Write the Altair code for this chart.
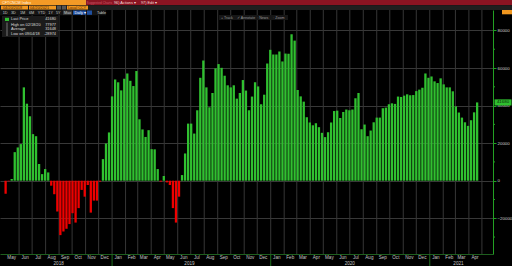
import altair as alt
import pandas as pd

FONT = "Liberation Sans"
GREEN = "#30c030"
RED = "#ee0000"

# ---- data -----------------------------------------------------------------
week_start = "2018-05-01"  # weekly (Tuesday) observations
net_positions = [
    -7000, -300, 900, 15200, 17700, 19500, 49700, 41000, 34300, 24800,
    23700, 8900, 3500, 6200, 4400, -2650, -7200, -16400, -28974, -27000,
    -25600, -23100, -17300, -22300, -14600, -4900, -8500, -2300, -17000, -10600,
    -10600, -500, 11500, 19800, 25700, 44900, 53900, 52400, 48100, 54300,
    57100, 53200, 50400, 58400, 32700, 27300, 23300, 26900, 16800, 16700,
    6200, -500, 2500, -900, -2300, -14600, -22300, -8500, 3000, 14500,
    30400, 30400, 25100, 37500, 54800, 64000, 49700, 39100, 46700, 59800,
    62100, 60100, 55900, 50800, 49700, 50800, 43700, 46700, 53600, 48000,
    37500, 44800, 52400, 50200, 40700, 45800, 62400, 69700, 67200, 67200,
    68800, 63500, 67700, 67600, 77977, 74600, 48300, 44900, 42100, 33800,
    31000, 29500, 30600, 28500, 25500, 23200, 25800, 31000, 37100, 37300,
    33400, 36600, 37900, 37500, 37900, 43900, 46700, 27400, 29900, 23700,
    26700, 31100, 33600, 33600, 38600, 38900, 40700, 41200, 40900, 44800,
    44600, 45300, 46000, 45500, 45600, 47700, 48500, 49500, 57100, 54800,
    55500, 52900, 52000, 54500, 51300, 49700, 49700, 47600, 39600, 36300,
    33600, 31100, 29200, 32200, 36400, 41680,
]

month_labels = ["May", "Jun", "Jul", "Aug", "Sep", "Oct", "Nov", "Dec",
                "Jan", "Feb", "Mar", "Apr", "May", "Jun", "Jul", "Aug", "Sep", "Oct", "Nov", "Dec",
                "Jan", "Feb", "Mar", "Apr", "May", "Jun", "Jul", "Aug", "Sep", "Oct", "Nov", "Dec",
                "Jan", "Feb", "Mar", "Apr"]
year_labels = ["2018", "2019", "2020", "2021"]
year_label_dates = ["2018-08-31", "2019-06-28", "2020-07-01", "2021-03-08"]
year_starts = ["2019-01-01", "2020-01-01", "2021-01-01"]

y_ticks = [-20000, 0, 20000, 40000, 60000, 80000]
y_minor = [-30000, -10000, 10000, 30000, 50000, 70000]

legend_names = ["Last Price", "High on 02/18/20", "Average", "Low on 09/04/18"]
legend_values = ["41680", "77977", "31648", "-28974"]
last_price = 41680

period_buttons = ["1D", "3D", "1M", "6M", "YTD", "1Y", "5Y", "Max"]
toolbar_items = ["+ Track", "\u2713 Annotate", "\u25ab News", "\u25ab Zoom"]

# ---- tables ---------------------------------------------------------------
dates = pd.date_range(week_start, periods=len(net_positions), freq="7D")
df = pd.DataFrame({"date": dates, "value": net_positions})
month_starts = pd.DataFrame({"date": pd.date_range("2018-06-01", "2021-05-01", freq="MS")})
month_mid = pd.DataFrame({
    "date": pd.date_range("2018-05-01", periods=len(month_labels), freq="MS") + pd.Timedelta(days=14),
    "label": month_labels,
})
years = pd.DataFrame({"date": pd.to_datetime(year_label_dates), "label": year_labels})
ystarts = pd.DataFrame({"date": pd.to_datetime(year_starts)})
minor = pd.DataFrame({"value": y_minor})
last_df = pd.DataFrame({"value": [last_price], "label": [legend_values[0]]})

x_scale = alt.Scale(domain=[alt.DateTime(year=2018, month=4, date=29, hours=14),
                            alt.DateTime(year=2021, month=5, date=15)])
y_scale = alt.Scale(domain=[-39032, 90898], nice=False, zero=False)

x_axis = alt.Axis(orient="bottom", labels=False, ticks=False, grid=False,
                  domainColor="#1e5e1e", title=None)
y_axis = alt.Axis(orient="right", values=y_ticks, format="d", grid=True,
                  gridColor="#383838", gridWidth=1, domainColor="#23a023",
                  tickColor="#23a023", tickSize=3, labelColor="#cfcfcf",
                  labelFontSize=4.4, labelFont=FONT, labelPadding=1,
                  labelOverlap=False, labelFlush=False, title=None)


def X(field="date:T"):
    return alt.X(field, scale=x_scale, axis=x_axis)


def Y(field="value:Q"):
    return alt.Y(field, scale=y_scale, axis=y_axis)


# ---- data layers ----------------------------------------------------------
vgrid = alt.Chart(month_starts).mark_rule(color="#363636", strokeWidth=1).encode(
    x=X(), y=alt.value(0), y2=alt.value(244),
)

bars = alt.Chart(df).mark_bar(width=2.3).encode(
    x=X(), y=Y(),
    color=alt.condition("datum.value >= 0", alt.value(GREEN), alt.value(RED)),
)

minor_ticks = alt.Chart(minor).mark_rule(color="#23a023").encode(
    y=Y(), x=alt.value(493), x2=alt.value(495),
)

last_box = alt.Chart(last_df).mark_point(
    shape="M-1,-0.36L1,-0.36L1,0.36L-1,0.36Z", filled=True, opacity=1,
    color="#2fbf2f", size=289, strokeWidth=0,
).encode(y=Y(), x=alt.value(503))

last_text = alt.Chart(last_df).mark_text(
    fontSize=4.4, font=FONT, color="#062006", baseline="middle", align="center"
).encode(y=Y(), x=alt.value(503), text="label:N")

month_text = alt.Chart(month_mid).mark_text(
    fontSize=4.6, font=FONT, color="#c4c4c4", baseline="middle", align="center"
).encode(x=X(), y=alt.value(248), text="label:N")

year_text = alt.Chart(years).mark_text(
    fontSize=4.6, font=FONT, color="#c4c4c4", baseline="middle", align="center"
).encode(x=X(), y=alt.value(253.5), text="label:N")

year_ticks = alt.Chart(ystarts).mark_rule(color="#1e6e1e").encode(
    x=X(), y=alt.value(244), y2=alt.value(256),
)

# ---- terminal chrome ------------------------------------------------------
base = alt.Chart(pd.DataFrame({"k": [0]}))


def box(x1, y1, x2, y2, color):
    return base.mark_rect(color=color).encode(
        x=alt.value(x1), x2=alt.value(x2), y=alt.value(y1), y2=alt.value(y2))


def label(x, y, text, color="#c8c8c8", size=3.9, align="left"):
    return base.mark_text(text=text, color=color, fontSize=size, align=align,
                          baseline="middle", font=FONT).encode(x=alt.value(x), y=alt.value(y))


chrome = [
    box(0, -10, 86, -4.7, "#f39a26"),
    box(86, -10, 512, -4.7, "#8a1422"),
    box(0, -4.7, 512, 0, "#1f1f1f"),
    box(1, -4.3, 28, -0.5, "#f0961e"),
    box(29, -4.3, 56, -0.5, "#f0961e"),
    box(57, -4.3, 61, -0.5, "#555555"),
    box(62, -4.3, 66, -0.5, "#555555"),
    box(67, -4.3, 88, -0.5, "#f0961e"),
    box(0, 0, 106, 5.3, "#141414"),
    box(63, 0.5, 72, 4.8, "#3a3a3a"),
    box(73, 0.5, 86, 4.8, "#1f4f9f"),
    box(87, 0.5, 92, 4.8, "#1f4f9f"),
    box(2, 6, 58, 27, "#1b1b1b"),
    box(5, 7.8, 9, 11, GREEN),
    box(6.6, 12.5, 7.4, 26, "#8a8a8a"),
    box(219, 5, 288, 10, "#161616"),
    box(502, 0, 512, 4.3, "#f0961e"),
    label(2, -7.3, "CFTCNCM Index", color="#fff4e0", size=3.8),
    label(86.5, -7.3, "Suggested Charts", color="#c8596a", size=3.2),
    label(114, -7.3, "96) Actions \u25be", color="#f4dada", size=3.8),
    label(141, -7.3, "97) Edit \u25be", color="#f4dada", size=3.8),
    label(3, -2.4, "04/20/2018", color="#4a2400", size=3.8),
    label(30, -2.4, "04/20/2021", color="#4a2400", size=3.8),
    label(68, -2.4, "Local CCY", color="#4a2400", size=3.8),
    label(74.5, 2.7, "Daily \u25be", color="#ffffff", size=3.8),
    label(97, 2.7, "Table", color="#d0d0d0", size=3.8),
]
for xpos, name in zip([2.7, 11, 20, 29, 37.7, 48.3, 56, 64], period_buttons):
    chrome.append(label(xpos, 2.7, name, size=3.8))
for ypos, name, val in zip([9.4, 14.6, 19.4, 24.4], legend_names, legend_values):
    chrome.append(label(11, ypos, name, color="#dcdcdc"))
    chrome.append(label(56, ypos, val, color="#dcdcdc", align="right"))
for xpos, name in zip([221, 237, 257, 273], toolbar_items):
    chrome.append(label(xpos, 7.5, name, color="#9a9a9a", size=3.6))

chart = alt.layer(
    vgrid, bars, minor_ticks, month_text, year_text, year_ticks,
    last_box, last_text, *chrome,
).properties(
    width=493, height=244,
    padding={"left": 0, "top": 10, "right": 19, "bottom": 12},
    autosize=alt.AutoSizeParams(type="none"),
    background="#000000",
).configure_view(stroke=None)

chart.save("out.html", embed_options={"renderer": "svg", "actions": False})
